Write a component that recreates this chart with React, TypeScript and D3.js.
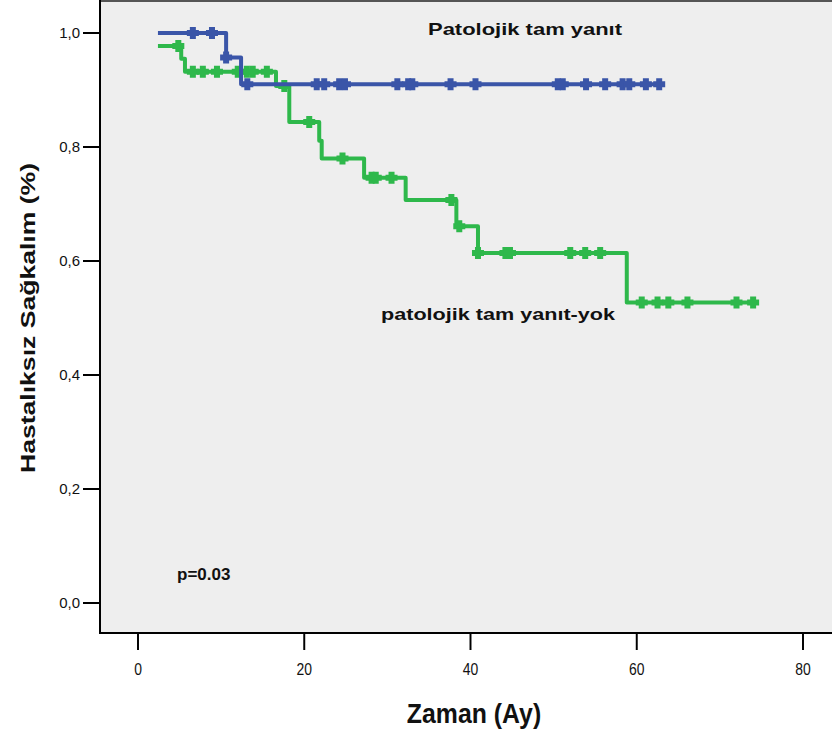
import React from 'react';
import * as d3 from 'd3';

// Kaplan-Meier data
const xTicks = [0, 20, 40, 60, 80];
const yTicks = [0, 0.2, 0.4, 0.6, 0.8, 1.0];
const yTickLabels = ['0,0', '0,2', '0,4', '0,6', '0,8', '1,0'];

const startTime = 2.4;

const blueStartSurv = 1.0;
const blueEventTimes = [10.6, 12.4];
const blueEventSurv = [0.957, 0.91];
const blueCensor = [6.6, 8.9, 10.6, 13.15, 21.5, 22.4, 24.2, 24.9, 31.2, 32.5, 33.0,
  37.6, 40.6, 50.5, 51.1, 53.9, 56.2, 58.3, 59.1, 61.1, 62.7];

const greenStartSurv = 0.977;
const greenEventTimes = [5.2, 5.65, 16.6, 18.2, 21.8, 22.1, 27.2, 32.2, 38.3, 40.9, 58.8];
const greenEventSurv = [0.955, 0.932, 0.907, 0.844, 0.811, 0.78, 0.746, 0.707, 0.661, 0.614, 0.527];
const greenCensor = [4.85, 6.6, 7.8, 9.5, 12.0, 13.1, 13.8, 15.5, 17.6, 20.6, 24.6, 28.1,
  28.6, 30.5, 37.7, 38.65, 40.9, 44.2, 44.75, 52.0, 53.8, 55.6, 60.6, 62.5, 63.8, 66.1, 72.0, 74.0];

const blue = '#3a55a8';
const green = '#2eb84b';

const W = 832;
const H = 735;
const plotLeft = 100;
const plotBottom = 633;

const x = d3.scaleLinear().domain([0, 80]).range([138, 803]);
const y = d3.scaleLinear().domain([0, 1]).range([603, 33]);

function survAt(t: number, s0: number, times: number[], surv: number[]) {
  let s = s0;
  times.forEach((et, i) => { if (et <= t) s = surv[i]; });
  return s;
}

function buildSeries(s0: number, times: number[], surv: number[], censor: number[]) {
  const end = d3.max(censor.concat(times)) as number;
  const pts: [number, number][] = [[startTime, s0]];
  times.forEach((t, i) => pts.push([t, surv[i]]));
  pts.push([end, surv[surv.length - 1]]);
  const line = d3.line<[number, number]>()
    .x(d => x(d[0]))
    .y(d => y(d[1]))
    .curve(d3.curveStepAfter);
  const marks = censor.map(t => [x(t), y(survAt(t, s0, times, surv))]);
  return { path: line(pts) as string, marks };
}

const plus = 'M-6,-3h12v6h-12z M-3,-6h6v12h-6z';

export default function App() {
  const b = buildSeries(blueStartSurv, blueEventTimes, blueEventSurv, blueCensor);
  const g = buildSeries(greenStartSurv, greenEventTimes, greenEventSurv, greenCensor);
  const font = "'Liberation Sans', Arial, sans-serif";

  return (
    <svg width={W} height={H} style={{ position: 'absolute', left: 0, top: 0, background: '#ffffff' }}>
      <rect x={plotLeft} y={1} width={W - plotLeft} height={plotBottom - 1} fill="#eeeeee" />
      <line x1={plotLeft} x2={W} y1={1} y2={1} stroke="#555" strokeWidth={2} />

      {/* y axis */}
      <line x1={plotLeft} x2={plotLeft} y1={0} y2={plotBottom + 1} stroke="#000" strokeWidth={2} />
      {yTicks.map((v, i) => (
        <g key={'y' + i}>
          <line x1={83} x2={plotLeft} y1={y(v)} y2={y(v)} stroke="#000" strokeWidth={2} />
          <text x={80} y={y(v)} dy="0.36em" textAnchor="end" fontFamily={font} fontSize={15} fill="#111">{yTickLabels[i]}</text>
        </g>
      ))}

      {/* x axis */}
      <line x1={plotLeft - 1} x2={W} y1={plotBottom} y2={plotBottom} stroke="#000" strokeWidth={2} />
      {xTicks.map(v => (
        <g key={'x' + v} transform={`translate(${x(v)},675) scale(0.82,1)`}>
          <line x1={0} x2={0} y1={plotBottom - 675} y2={650 - 675} stroke="#000" strokeWidth={2.4} />
          <text x={0} y={0} textAnchor="middle" fontFamily={font} fontSize={17} fill="#111">{v}</text>
        </g>
      ))}

      {/* curves */}
      <path d={g.path} fill="none" stroke={green} strokeWidth={4} strokeLinejoin="round" />
      {g.marks.map((m, i) => <path key={'gm' + i} d={plus} transform={`translate(${m[0]},${m[1]})`} fill={green} />)}
      <path d={b.path} fill="none" stroke={blue} strokeWidth={4} strokeLinejoin="round" />
      {b.marks.map((m, i) => <path key={'bm' + i} d={plus} transform={`translate(${m[0]},${m[1]})`} fill={blue} />)}

      {/* labels */}
      <text x={428} y={35} fontFamily={font} fontWeight="bold" fontSize={17} fill="#111" textLength={194} lengthAdjust="spacingAndGlyphs">Patolojik tam yanıt</text>
      <text x={381} y={320} fontFamily={font} fontWeight="bold" fontSize={17} fill="#111" textLength={234} lengthAdjust="spacingAndGlyphs">patolojik tam yanıt-yok</text>
      <text x={177} y={580} fontFamily={font} fontWeight="bold" fontSize={17} fill="#111">p=0.03</text>

      <text transform="translate(474,723) scale(0.92,1)" textAnchor="middle" fontFamily={font} fontWeight="bold" fontSize={27} fill="#111">Zaman (Ay)</text>
      <text transform="translate(35,318) rotate(-90)" textAnchor="middle" fontFamily={font} fontWeight="bold" fontSize={20} fill="#111" textLength={310} lengthAdjust="spacingAndGlyphs">Hastalıksız Sağkalım (%)</text>
    </svg>
  );
}
